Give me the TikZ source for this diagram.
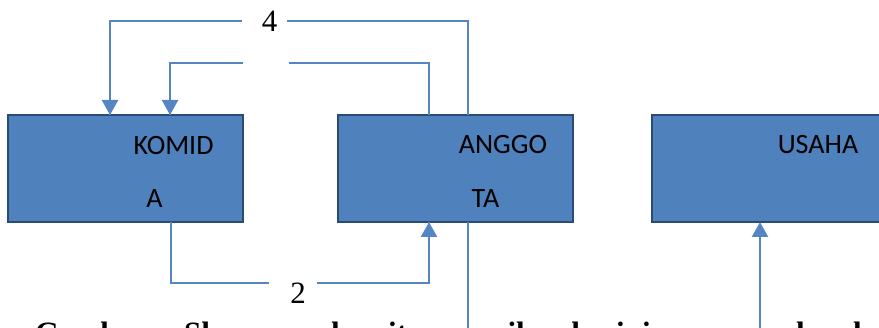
\documentclass[tikz,border=0pt]{standalone}
\usepackage{fontspec}
\setmainfont{Liberation Serif}
\newfontfamily\boxfont{Carlito}
\usetikzlibrary{arrows.meta,calc}
\definecolor{boxblue}{HTML}{4F81BD}
\definecolor{boxedge}{HTML}{2A4B73}
\definecolor{linkblue}{HTML}{5585C2}
\begin{document}
\begin{tikzpicture}[x=1pt,y=-1pt,
  unitbox/.style={draw=boxedge, fill=boxblue, line width=2pt, minimum width=235pt, minimum height=107pt, inner sep=0pt, outer sep=0pt},
  boxtext/.style={anchor=base, inner sep=0pt, font=\boxfont\fontsize{28}{28}\selectfont, text=black},
  thinline/.style={draw=linkblue, line width=1.3pt},
  arrline/.style={draw=linkblue, line width=2.3pt, -{Triangle[width=16pt,length=15pt]}},
  numlabel/.style={inner sep=0pt, font=\fontsize{31}{31}\selectfont},
  captext/.style={anchor=base west, inner sep=0pt, font=\bfseries\fontsize{31}{31}\selectfont}]
\useasboundingbox (0,0) rectangle (879,328);
\clip (0,0) rectangle (879,328);

% boxes
\node[unitbox] (kom) at (125.5,168.5) {};
\node[unitbox] (ang) at (455.5,168.5) {};
\node[unitbox] (usa) at (769.5,168.5) {};

% box texts
\node[boxtext] (komT1) at (173.5,155) {KOMID};
\node[boxtext] (komT2) at (154.5,208) {A};
\node[boxtext] (angT1) at (503,154) {ANGGO};
\node[boxtext] (angT2) at (485.5,208) {TA};
\node[boxtext] (usaT1) at (818,154) {USAHA};

% anchor points on boxes
\coordinate (kA) at ($(kom.north west)+(102,0)$);
\coordinate (kB) at ($(kom.north west)+(162,0)$);
\coordinate (aA) at ($(ang.north west)+(91,0)$);
\coordinate (aB) at ($(ang.north west)+(130,0)$);
\coordinate (kBot) at ($(kom.south west)+(163,0)$);
\coordinate (aBot) at ($(ang.south west)+(91,0)$);
\coordinate (aBot2) at ($(ang.south west)+(130,0)$);
\coordinate (uBot) at ($(usa.south west)+(108,0)$);

% gap ends
\coordinate (o1) at (242,21);
\coordinate (o2) at (287,21);
\coordinate (i1) at (243,63);
\coordinate (i2) at (289,63);
\coordinate (t1) at (269,283);
\coordinate (t2) at (317,283);
\coordinate (e1) at (468,340);
\coordinate (e2) at (760,340);

% caption (cut off at the bottom, as in the reference)
\node[captext] (c1) at (35,344) {Gambar};
\node[captext] (c2) at (184,344) {Skema};
\node[captext] (c3) at (331,344) {kemitraan};
\node[captext] (c4) at (485,344) {wilayah};
\node[captext] (c5) at (616,344) {ini};
\node[captext] (c6) at (676,344) {secara};
\node[captext] (c7) at (796,344) {keseluruhan};

% outer loop "4"
\draw[thinline] (aB) |- (o2);
\draw[thinline] (o1) -| (kA);
\draw[arrline] (o1 -| kA) -- (kA);
\node[numlabel] (four) at (269.5,21) {4};

% inner loop
\draw[thinline] (aA) |- (i2);
\draw[thinline] (i1) -| (kB);
\draw[arrline] (i1 -| kB) -- (kB);

% bottom loop "2"
\draw[thinline] (kBot) |- (t1);
\draw[thinline] (t2) -| (aBot);
\draw[arrline] (t2 -| aBot) -- (aBot);
\node[numlabel] (two) at (298,293) {2};

% lines to the bottom
\draw[thinline] (aBot2) -- (e1);
\draw[arrline] (e2) -- (uBot);
\end{tikzpicture}
\end{document}
